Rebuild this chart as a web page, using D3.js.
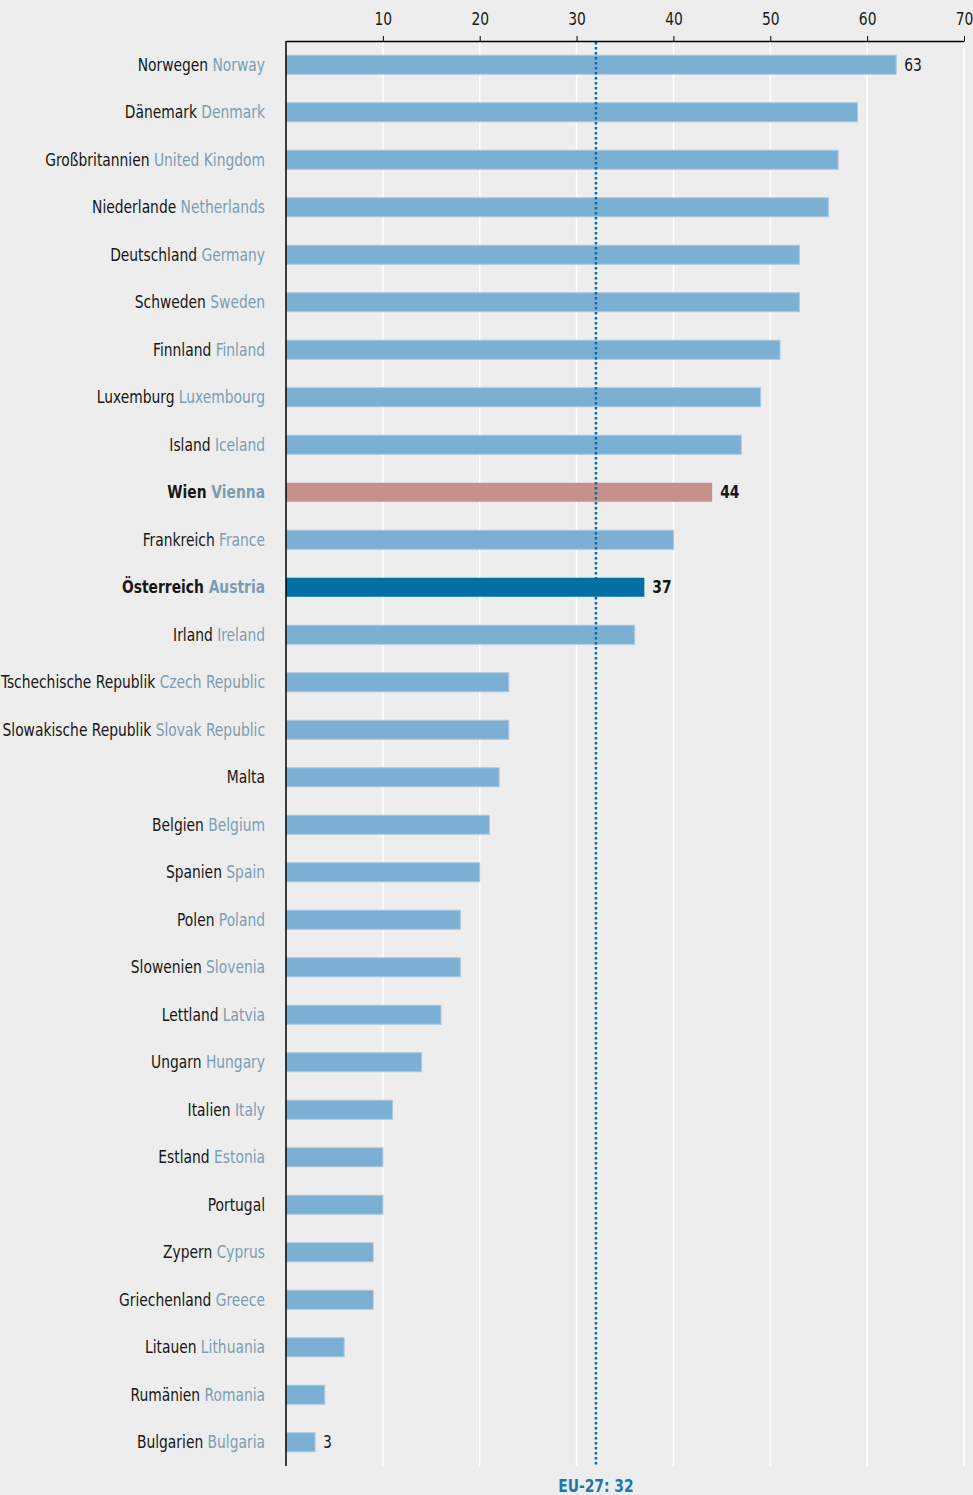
<!DOCTYPE html>
<html>
<head>
<meta charset="utf-8">
<script src="https://cdn.jsdelivr.net/npm/d3@7/dist/d3.min.js"></script>
<style>
    body { margin: 0; background: #ededed; }
    svg { display: block; background: #ededed; }
    text { font-family: "DejaVu Sans Condensed", "DejaVu Sans", sans-serif; }
</style>
</head>
<body>
<script>
    // German / English country names and values
    var namesDe = ['Norwegen', 'Dänemark', 'Großbritannien', 'Niederlande', 'Deutschland', 'Schweden',
        'Finnland', 'Luxemburg', 'Island', 'Wien', 'Frankreich', 'Österreich', 'Irland',
        'Tschechische Republik', 'Slowakische Republik', 'Malta', 'Belgien', 'Spanien', 'Polen',
        'Slowenien', 'Lettland', 'Ungarn', 'Italien', 'Estland', 'Portugal', 'Zypern',
        'Griechenland', 'Litauen', 'Rumänien', 'Bulgarien'];
    var namesEn = ['Norway', 'Denmark', 'United Kingdom', 'Netherlands', 'Germany', 'Sweden',
        'Finland', 'Luxembourg', 'Iceland', 'Vienna', 'France', 'Austria', 'Ireland',
        'Czech Republic', 'Slovak Republic', '', 'Belgium', 'Spain', 'Poland',
        'Slovenia', 'Latvia', 'Hungary', 'Italy', 'Estonia', '', 'Cyprus',
        'Greece', 'Lithuania', 'Romania', 'Bulgaria'];
    var values = [63, 59, 57, 56, 53, 53, 51, 49, 47, 44, 40, 37, 36, 23, 23, 22, 21, 20, 18,
        18, 16, 14, 11, 10, 10, 9, 9, 6, 4, 3];
    var ticks = [10, 20, 30, 40, 50, 60, 70];
    var euValue = 32;
    var labelled = ['Norwegen', 'Wien', 'Österreich', 'Bulgarien'];

    var w = 973, h = 1495;
    var squeeze = 0.88; // condensed font is still too wide, narrow it a bit more
    var data = namesDe.map((d, i) => ({ de: d, en: namesEn[i], value: values[i] }));
    var isHi = d => d.de === 'Wien' || d.de === 'Österreich';

    var x = d3.scaleLinear().domain([0, 70]).range([286, 964]);
    var y = d3.scaleBand().domain(namesDe).range([41, 1466]).paddingInner(0.6).paddingOuter(0.3);

    var svg = d3.select('body').append('svg')
        .attr('width', w)
        .attr('height', h);

    // white gridlines
    svg.append('g').selectAll('line')
        .data(ticks)
        .enter().append('line')
        .attr('x1', d => x(d)).attr('x2', d => x(d))
        .attr('y1', 41).attr('y2', 1466)
        .attr('stroke', '#ffffff')
        .attr('stroke-width', 1.5);

    // bars
    function barColor(d) {
        if (d.de === 'Wien') return '#c6908b';
        if (d.de === 'Österreich') return '#0070a4';
        return '#7bafd4';
    }
    svg.append('g').selectAll('rect')
        .data(data)
        .enter().append('rect')
        .attr('x', x(0))
        .attr('y', d => y(d.de))
        .attr('width', d => x(d.value) - x(0))
        .attr('height', y.bandwidth())
        .attr('fill', barColor)
        .attr('stroke', d => isHi(d) ? 'none' : '#a9c9e0')
        .attr('stroke-width', 1);

    // EU-27 average, dotted
    svg.append('line')
        .attr('x1', x(euValue)).attr('x2', x(euValue))
        .attr('y1', 42).attr('y2', 1466)
        .attr('stroke', '#0a6d9e')
        .attr('stroke-width', 2.5)
        .attr('stroke-dasharray', '2.5,2.5');
    svg.append('text')
        .attr('transform', 'translate(' + x(euValue) + ',1492) scale(' + squeeze + ',1)')
        .attr('text-anchor', 'middle')
        .attr('font-size', 17.5)
        .attr('font-weight', 'bold')
        .attr('fill', '#1a78ac')
        .text('EU-27: ' + euValue);

    // top axis
    var axis = svg.append('g')
        .attr('transform', 'translate(0,41)')
        .call(d3.axisTop(x).tickValues(ticks).tickSize(5).tickPadding(11).tickSizeOuter(0));
    axis.select('.domain').attr('stroke', '#000').attr('stroke-width', 1.5);
    axis.selectAll('.tick line').attr('stroke', '#000');
    axis.selectAll('.tick text')
        .attr('font-size', 17.5)
        .attr('fill', '#1a1a1a')
        .attr('font-family', null)
        .attr('transform', 'scale(' + squeeze + ',1)');

    // left axis line
    svg.append('line')
        .attr('x1', x(0)).attr('x2', x(0))
        .attr('y1', 41).attr('y2', 1466)
        .attr('stroke', '#000')
        .attr('stroke-width', 1.5);

    // country labels
    var lab = svg.append('g').selectAll('text')
        .data(data)
        .enter().append('text')
        .attr('transform', d => 'translate(265,' + (y(d.de) + y.bandwidth() / 2) + ') scale(' + squeeze + ',1)')
        .attr('dy', '0.35em')
        .attr('text-anchor', 'end')
        .attr('font-size', 17.5)
        .attr('font-weight', d => isHi(d) ? 'bold' : 'normal');
    lab.append('tspan')
        .attr('fill', '#161616')
        .text(d => d.de);
    lab.append('tspan')
        .attr('fill', '#7a9db4')
        .text(d => d.en ? ' ' + d.en : '');

    // value labels
    svg.append('g').selectAll('text')
        .data(data.filter(d => labelled.indexOf(d.de) >= 0))
        .enter().append('text')
        .attr('transform', d => 'translate(' + (x(d.value) + 8) + ',' + (y(d.de) + y.bandwidth() / 2) + ') scale(' + squeeze + ',1)')
        .attr('dy', '0.35em')
        .attr('font-size', 17.5)
        .attr('font-weight', d => isHi(d) ? 'bold' : 'normal')
        .attr('fill', '#161616')
        .text(d => d.value);
</script>
</body>
</html>
